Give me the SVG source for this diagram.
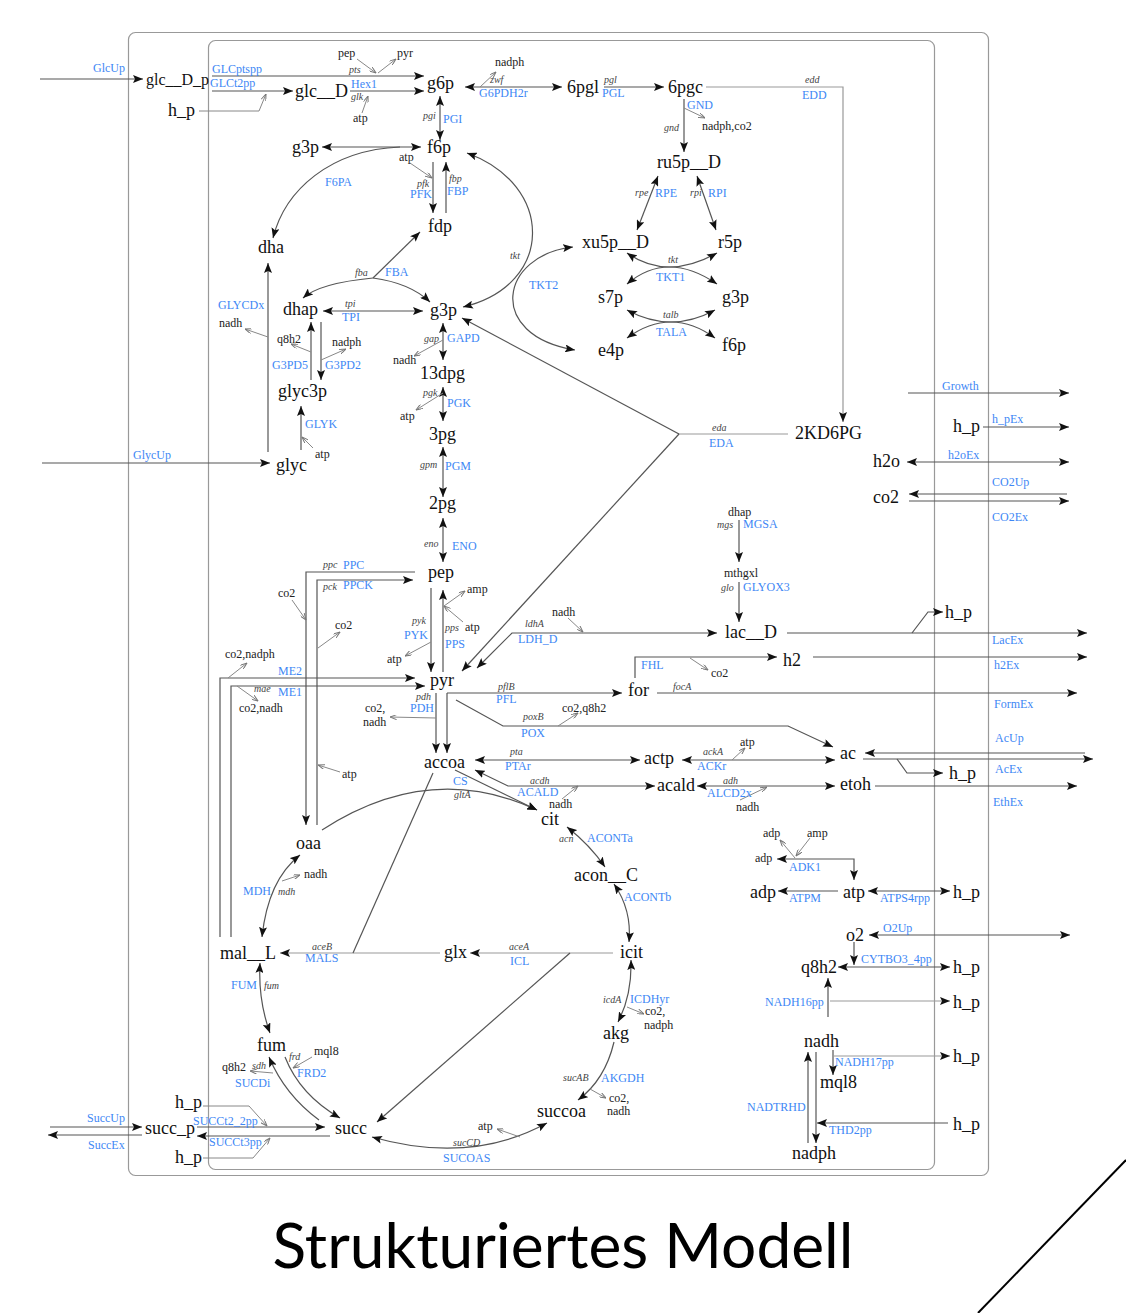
<svg xmlns="http://www.w3.org/2000/svg" width="1126" height="1313" viewBox="0 0 1126 1313">
<style>
.m{font-family:"Liberation Serif",serif;font-size:18px;fill:#111}
.s{font-family:"Liberation Serif",serif;font-size:12px;fill:#222}
.r{font-family:"Liberation Serif",serif;font-size:12px;fill:#3e87f5}
.g{font-family:"Liberation Serif",serif;font-size:10px;font-style:italic;fill:#444}
.l{fill:none;stroke:#555;stroke-width:1.2}
.lg{fill:none;stroke:#999;stroke-width:1.2}
.c{fill:none;stroke:#888;stroke-width:1;marker-end:url(#sa)}
.e{marker-end:url(#ah)}
.b{marker-start:url(#ah);marker-end:url(#ah)}
.box{fill:none;stroke:#999;stroke-width:1.2}
</style>
<defs>
<marker id="ah" viewBox="0 0 10 8" refX="10" refY="4" markerWidth="10" markerHeight="8" markerUnits="userSpaceOnUse" orient="auto-start-reverse"><path d="M0,0 L10,4 L0,8 L2,4 z" fill="#111"/></marker>
<marker id="sa" viewBox="0 0 8 6" refX="8" refY="3" markerWidth="7" markerHeight="5" markerUnits="userSpaceOnUse" orient="auto"><path d="M0,0 L8,3 L0,6" fill="none" stroke="#777" stroke-width="1.2"/></marker>
</defs>
<rect width="1126" height="1313" fill="#fff"/>
<g id="compartments">
<rect class="box" x="128.5" y="32.5" width="860" height="1143" rx="7"/>
<rect class="box" x="208.5" y="40.5" width="726" height="1129" rx="7"/>
</g>
<g id="connectors">
<path class="l e" d="M40,79 L143,79"/>
<path class="l e" d="M212,76 L424,76"/>
<path class="l e" d="M212,91 L293,91"/>
<path class="c" d="M199,111 L259,111 L266,94"/>
<path class="l e" d="M350,91 L424,91"/>
<path class="c" d="M362,113 L368,96"/>
<path class="c" d="M357,59 L376,73"/>
<path class="c" d="M378,73 L396,59"/>
<path class="l b" d="M465,87 L562,87"/>
<path class="c" d="M480,87 L496,72"/>
<path class="l e" d="M604,87 L664,87"/>
<path class="lg e" d="M706,87 L843,87 L843,422"/>
<path class="l e" d="M684,99 L684,152"/>
<path class="c" d="M684,108 L705,118"/>
<path class="l b" d="M658,176 L637,230"/>
<path class="l b" d="M697,176 L716,230"/>
<path class="l b" d="M627,253 Q667,281 717,253"/>
<path class="l b" d="M627,284 Q667,250 717,284"/>
<path class="l b" d="M627,310 Q671,334 715,310"/>
<path class="l b" d="M627,338 Q671,306 715,338"/>
<path class="l b" d="M467,153 C555,185 555,285 463,307"/>
<path class="l b" d="M573,247 C500,255 485,335 575,350"/>
<path class="l b" d="M440,96 L440,140"/>
<path class="l b" d="M421,147 L322,147"/>
<path class="l e" d="M400,147 C330,150 285,190 273,238"/>
<path class="l e" d="M433,162 L433,213"/>
<path class="c" d="M410,163 L432,178"/>
<path class="l e" d="M446,213 L446,162"/>
<path class="l e" d="M373,278 L420,232"/>
<path class="l e" d="M373,278 Q320,283 303,298"/>
<path class="l e" d="M373,278 Q410,283 430,302"/>
<path class="l b" d="M323,311 L423,311"/>
<path class="l b" d="M443,323 L443,360"/>
<path class="c" d="M443,340 L414,356"/>
<path class="l b" d="M443,387 L443,421"/>
<path class="c" d="M443,393 L416,410"/>
<path class="l b" d="M443,447 L443,497"/>
<path class="l b" d="M443,518 L443,562"/>
<path class="l e" d="M268,452 L268,263"/>
<path class="c" d="M268,337 L245,329"/>
<path class="l e" d="M42,463 L270,463"/>
<path class="l e" d="M301,450 L301,406"/>
<path class="c" d="M313,448 L302,437"/>
<path class="l e" d="M311,380 L311,322"/>
<path class="c" d="M311,352 L291,344"/>
<path class="l e" d="M321,322 L321,380"/>
<path class="c" d="M321,360 L346,349"/>
<path class="l e" d="M415,572 L306,572 L306,825"/>
<path class="c" d="M292,600 L306,620"/>
<path class="l e" d="M317,825 L317,580 L413,580"/>
<path class="c" d="M318,648 L340,632"/>
<path class="c" d="M340,772 L318,765"/>
<path class="l e" d="M220,937 L220,678 L415,678"/>
<path class="c" d="M228,678 L247,663"/>
<path class="l e" d="M231,937 L231,686 L425,686"/>
<path class="c" d="M237,686 L258,701"/>
<path class="l e" d="M431,588 L431,672"/>
<path class="c" d="M431,642 L405,656"/>
<path class="l e" d="M443,672 L443,590"/>
<path class="c" d="M463,622 L444,606"/>
<path class="c" d="M444,606 L465,591"/>
<path class="lg" d="M788,434 L679,434"/>
<path class="l e" d="M679,434 L462,318"/>
<path class="l e" d="M679,434 L462,671"/>
<path class="l b" d="M717,633 L512,633 L477,668"/>
<path class="c" d="M568,618 L583,632"/>
<path class="l e" d="M739,520 L739,562"/>
<path class="l e" d="M739,582 L739,622"/>
<path class="l e" d="M787,633 L1087,633"/>
<path class="l e" d="M912,633 L928,612 L943,612"/>
<path class="l e" d="M635,678 L635,657 L777,657"/>
<path class="c" d="M690,658 L708,670"/>
<path class="l e" d="M813,657 L1087,657"/>
<path class="l e" d="M447,693 L447,753"/>
<path class="l e" d="M447,693 L622,693"/>
<path class="l e" d="M657,693 L1077,693"/>
<path class="l e" d="M436,693 L436,753"/>
<path class="c" d="M436,718 L390,717"/>
<path class="l e" d="M456,700 L503,726 L788,726 L833,747"/>
<path class="c" d="M558,726 L578,713"/>
<path class="l b" d="M475,760 L640,760"/>
<path class="l b" d="M682,760 L835,760"/>
<path class="c" d="M732,760 L745,748"/>
<path class="l b" d="M655,786 L508,786 L475,770"/>
<path class="c" d="M562,799 L578,786"/>
<path class="l b" d="M697,786 L835,786"/>
<path class="c" d="M740,800 L767,787"/>
<path class="l e" d="M875,786 L1077,786"/>
<path class="l e" d="M1085,753 L865,753"/>
<path class="l e" d="M863,759 L1093,759"/>
<path class="l e" d="M897,759 L907,773 L943,773"/>
<path class="l e" d="M908,393 L1069,393"/>
<path class="l e" d="M983,427 L1069,427"/>
<path class="l b" d="M907,462 L1069,462"/>
<path class="l e" d="M1067,494 L909,494"/>
<path class="l e" d="M909,501 L1069,501"/>
<path class="l e" d="M455,770 L537,810"/>
<path class="l e" d="M322,830 Q430,760 537,810"/>
<path class="l b" d="M567,827 Q590,845 605,867"/>
<path class="l b" d="M614,884 Q632,910 629,942"/>
<path class="lg e" d="M613,953 L470,953"/>
<path class="l e" d="M570,953 L377,1122"/>
<path class="lg e" d="M440,953 L280,953"/>
<path class="l" d="M353,953 L433,773"/>
<path class="l b" d="M262,937 Q268,880 300,855"/>
<path class="c" d="M282,881 L300,875"/>
<path class="l b" d="M260,963 Q258,1000 270,1033"/>
<path class="l e" d="M319,1120 Q285,1095 269,1057"/>
<path class="c" d="M273,1073 L250,1071"/>
<path class="l e" d="M285,1057 Q300,1095 340,1118"/>
<path class="c" d="M312,1057 L293,1068"/>
<path class="l b" d="M547,1123 Q470,1165 372,1137"/>
<path class="c" d="M520,1137 L497,1129"/>
<path class="l e" d="M614,1042 Q605,1080 578,1100"/>
<path class="c" d="M590,1089 L606,1098"/>
<path class="l b" d="M631,960 Q632,995 618,1022"/>
<path class="c" d="M627,1007 L644,1014"/>
<path class="l e" d="M50,1127 L142,1127"/>
<path class="l e" d="M142,1135 L48,1135"/>
<path class="l e" d="M197,1127 L325,1127"/>
<path class="c" d="M203,1106 L249,1106 L267,1126"/>
<path class="l e" d="M330,1136 L197,1136"/>
<path class="c" d="M203,1158 L253,1158 L270,1138"/>
<path class="c" d="M795,858 L780,840"/>
<path class="c" d="M810,838 L796,856"/>
<path class="l b" d="M777,859 L854,859 L854,880"/>
<path class="l e" d="M838,891 L778,891"/>
<path class="l b" d="M868,891 L950,891"/>
<path class="l b" d="M869,935 L1070,935"/>
<path class="l e" d="M854,942 L854,965"/>
<path class="l b" d="M838,967 L950,967"/>
<path class="l e" d="M828,1017 L828,978"/>
<path class="lg e" d="M830,1001 L950,1001"/>
<path class="l e" d="M833,1050 L833,1075"/>
<path class="lg e" d="M833,1056 L950,1056"/>
<path class="l e" d="M808,1143 L808,1052"/>
<path class="l e" d="M816,1052 L816,1143"/>
<path class="l e" d="M948,1123 L817,1123"/>
</g>
<g id="nodes">
<g id="n-glc_D_p"><text class="m" x="146" y="85" style="font-size:16px">glc__D_p</text></g>
<g id="n-h_p1"><text class="m" x="168" y="116">h_p</text></g>
<g id="n-glc_D"><text class="m" x="295" y="97">glc__D</text></g>
<g id="n-g6p"><text class="m" x="427" y="89">g6p</text></g>
<g id="n-6pgl"><text class="m" x="567" y="93">6pgl</text></g>
<g id="n-6pgc"><text class="m" x="668" y="93">6pgc</text></g>
<g id="n-f6p"><text class="m" x="427" y="153">f6p</text></g>
<g id="n-g3p-left"><text class="m" x="292" y="153">g3p</text></g>
<g id="n-fdp"><text class="m" x="428" y="232">fdp</text></g>
<g id="n-dha"><text class="m" x="258" y="253">dha</text></g>
<g id="n-dhap"><text class="m" x="283" y="315">dhap</text></g>
<g id="n-g3p"><text class="m" x="430" y="316">g3p</text></g>
<g id="n-glyc3p"><text class="m" x="278" y="397">glyc3p</text></g>
<g id="n-glyc"><text class="m" x="276" y="471">glyc</text></g>
<g id="n-13dpg"><text class="m" x="420" y="379">13dpg</text></g>
<g id="n-3pg"><text class="m" x="429" y="440">3pg</text></g>
<g id="n-2pg"><text class="m" x="429" y="509">2pg</text></g>
<g id="n-pep"><text class="m" x="428" y="578">pep</text></g>
<g id="n-pyr"><text class="m" x="430" y="686">pyr</text></g>
<g id="n-accoa"><text class="m" x="424" y="768">accoa</text></g>
<g id="n-oaa"><text class="m" x="296" y="849">oaa</text></g>
<g id="n-cit"><text class="m" x="541" y="825">cit</text></g>
<g id="n-acon_C"><text class="m" x="574" y="881">acon__C</text></g>
<g id="n-icit"><text class="m" x="620" y="958">icit</text></g>
<g id="n-glx"><text class="m" x="444" y="958">glx</text></g>
<g id="n-mal_L"><text class="m" x="220" y="959">mal__L</text></g>
<g id="n-fum"><text class="m" x="257" y="1051">fum</text></g>
<g id="n-succ"><text class="m" x="335" y="1134">succ</text></g>
<g id="n-succ_p"><text class="m" x="145" y="1134">succ_p</text></g>
<g id="n-h_p2"><text class="m" x="175" y="1108">h_p</text></g>
<g id="n-h_p3"><text class="m" x="175" y="1163">h_p</text></g>
<g id="n-akg"><text class="m" x="603" y="1039">akg</text></g>
<g id="n-succoa"><text class="m" x="537" y="1117">succoa</text></g>
<g id="n-ru5p_D"><text class="m" x="657" y="168">ru5p__D</text></g>
<g id="n-xu5p_D"><text class="m" x="582" y="248">xu5p__D</text></g>
<g id="n-r5p"><text class="m" x="718" y="248">r5p</text></g>
<g id="n-s7p"><text class="m" x="598" y="303">s7p</text></g>
<g id="n-g3p-right"><text class="m" x="722" y="303">g3p</text></g>
<g id="n-e4p"><text class="m" x="598" y="356">e4p</text></g>
<g id="n-f6p-right"><text class="m" x="722" y="351">f6p</text></g>
<g id="n-2KD6PG"><text class="m" x="795" y="439">2KD6PG</text></g>
<g id="n-h_p4"><text class="m" x="953" y="432">h_p</text></g>
<g id="n-h2o"><text class="m" x="873" y="467">h2o</text></g>
<g id="n-co2"><text class="m" x="873" y="503">co2</text></g>
<g id="n-lac_D"><text class="m" x="725" y="638">lac__D</text></g>
<g id="n-h_p5"><text class="m" x="945" y="618">h_p</text></g>
<g id="n-h2"><text class="m" x="783" y="666">h2</text></g>
<g id="n-for"><text class="m" x="628" y="696">for</text></g>
<g id="n-actp"><text class="m" x="644" y="764">actp</text></g>
<g id="n-ac"><text class="m" x="840" y="759">ac</text></g>
<g id="n-acald"><text class="m" x="657" y="791">acald</text></g>
<g id="n-etoh"><text class="m" x="840" y="790">etoh</text></g>
<g id="n-h_p6"><text class="m" x="949" y="779">h_p</text></g>
<g id="n-adp"><text class="m" x="750" y="898">adp</text></g>
<g id="n-atp"><text class="m" x="843" y="898">atp</text></g>
<g id="n-h_p7"><text class="m" x="953" y="898">h_p</text></g>
<g id="n-o2"><text class="m" x="846" y="941">o2</text></g>
<g id="n-q8h2"><text class="m" x="801" y="973">q8h2</text></g>
<g id="n-h_p8"><text class="m" x="953" y="973">h_p</text></g>
<g id="n-h_p9"><text class="m" x="953" y="1008">h_p</text></g>
<g id="n-nadh"><text class="m" x="804" y="1047">nadh</text></g>
<g id="n-h_p10"><text class="m" x="953" y="1062">h_p</text></g>
<g id="n-mql8"><text class="m" x="820" y="1088">mql8</text></g>
<g id="n-h_p11"><text class="m" x="953" y="1130">h_p</text></g>
<g id="n-nadph"><text class="m" x="792" y="1159">nadph</text></g>
<g id="n-dhap-small"><text class="s" x="728" y="516">dhap</text></g>
<g id="n-mthgxl"><text class="s" x="724" y="577">mthgxl</text></g>
</g>
<g id="cofactors">
<text class="s" x="338" y="57">pep</text>
<text class="s" x="397" y="57">pyr</text>
<text class="s" x="353" y="122">atp</text>
<text class="s" x="495" y="66">nadph</text>
<text class="s" x="702" y="130">nadph,co2</text>
<text class="s" x="399" y="161">atp</text>
<text class="s" x="219" y="327">nadh</text>
<text class="s" x="277" y="343">q8h2</text>
<text class="s" x="332" y="346">nadph</text>
<text class="s" x="393" y="364">nadh</text>
<text class="s" x="400" y="420">atp</text>
<text class="s" x="315" y="458">atp</text>
<text class="s" x="278" y="597">co2</text>
<text class="s" x="335" y="629">co2</text>
<text class="s" x="225" y="658">co2,nadph</text>
<text class="s" x="239" y="712">co2,nadh</text>
<text class="s" x="467" y="593">amp</text>
<text class="s" x="465" y="631">atp</text>
<text class="s" x="387" y="663">atp</text>
<text class="s" x="365" y="712">co2,</text>
<text class="s" x="363" y="726">nadh</text>
<text class="s" x="342" y="778">atp</text>
<text class="s" x="552" y="616">nadh</text>
<text class="s" x="711" y="677">co2</text>
<text class="s" x="562" y="712">co2,q8h2</text>
<text class="s" x="740" y="746">atp</text>
<text class="s" x="549" y="808">nadh</text>
<text class="s" x="736" y="811">nadh</text>
<text class="s" x="304" y="878">nadh</text>
<text class="s" x="314" y="1055">mql8</text>
<text class="s" x="222" y="1071">q8h2</text>
<text class="s" x="645" y="1015">co2,</text>
<text class="s" x="644" y="1029">nadph</text>
<text class="s" x="609" y="1102">co2,</text>
<text class="s" x="607" y="1115">nadh</text>
<text class="s" x="478" y="1130">atp</text>
<text class="s" x="763" y="837">adp</text>
<text class="s" x="807" y="837">amp</text>
<text class="s" x="755" y="862">adp</text>
</g>
<g id="reaction-labels">
<text class="r" x="93" y="72">GlcUp</text>
<text class="r" x="212" y="73">GLCptspp</text>
<text class="r" x="210" y="87">GLCt2pp</text>
<text class="r" x="351" y="88">Hex1</text>
<text class="r" x="479" y="97">G6PDH2r</text>
<text class="r" x="602" y="97">PGL</text>
<text class="r" x="687" y="109">GND</text>
<text class="r" x="802" y="99">EDD</text>
<text class="r" x="443" y="123">PGI</text>
<text class="r" x="325" y="186">F6PA</text>
<text class="r" x="410" y="198">PFK</text>
<text class="r" x="447" y="195">FBP</text>
<text class="r" x="655" y="197">RPE</text>
<text class="r" x="708" y="197">RPI</text>
<text class="r" x="529" y="289">TKT2</text>
<text class="r" x="656" y="281">TKT1</text>
<text class="r" x="385" y="276">FBA</text>
<text class="r" x="218" y="309">GLYCDx</text>
<text class="r" x="342" y="321">TPI</text>
<text class="r" x="656" y="336">TALA</text>
<text class="r" x="447" y="342">GAPD</text>
<text class="r" x="272" y="369">G3PD5</text>
<text class="r" x="325" y="369">G3PD2</text>
<text class="r" x="447" y="407">PGK</text>
<text class="r" x="305" y="428">GLYK</text>
<text class="r" x="709" y="447">EDA</text>
<text class="r" x="133" y="459">GlycUp</text>
<text class="r" x="445" y="470">PGM</text>
<text class="r" x="743" y="528">MGSA</text>
<text class="r" x="452" y="550">ENO</text>
<text class="r" x="343" y="569">PPC</text>
<text class="r" x="343" y="589">PPCK</text>
<text class="r" x="743" y="591">GLYOX3</text>
<text class="r" x="518" y="643">LDH_D</text>
<text class="r" x="404" y="639">PYK</text>
<text class="r" x="445" y="648">PPS</text>
<text class="r" x="641" y="669">FHL</text>
<text class="r" x="278" y="675">ME2</text>
<text class="r" x="278" y="696">ME1</text>
<text class="r" x="496" y="703">PFL</text>
<text class="r" x="410" y="712">PDH</text>
<text class="r" x="521" y="737">POX</text>
<text class="r" x="505" y="770">PTAr</text>
<text class="r" x="697" y="770">ACKr</text>
<text class="r" x="453" y="785">CS</text>
<text class="r" x="517" y="796">ACALD</text>
<text class="r" x="707" y="797">ALCD2x</text>
<text class="r" x="587" y="842">ACONTa</text>
<text class="r" x="789" y="871">ADK1</text>
<text class="r" x="243" y="895">MDH</text>
<text class="r" x="789" y="902">ATPM</text>
<text class="r" x="880" y="902">ATPS4rpp</text>
<text class="r" x="624" y="901">ACONTb</text>
<text class="r" x="883" y="932">O2Up</text>
<text class="r" x="305" y="962">MALS</text>
<text class="r" x="510" y="965">ICL</text>
<text class="r" x="861" y="963">CYTBO3_4pp</text>
<text class="r" x="231" y="989">FUM</text>
<text class="r" x="765" y="1006">NADH16pp</text>
<text class="r" x="630" y="1003">ICDHyr</text>
<text class="r" x="835" y="1066">NADH17pp</text>
<text class="r" x="235" y="1087">SUCDi</text>
<text class="r" x="297" y="1077">FRD2</text>
<text class="r" x="601" y="1082">AKGDH</text>
<text class="r" x="747" y="1111">NADTRHD</text>
<text class="r" x="87" y="1122">SuccUp</text>
<text class="r" x="193" y="1125">SUCCt2_2pp</text>
<text class="r" x="829" y="1134">THD2pp</text>
<text class="r" x="209" y="1146">SUCCt3pp</text>
<text class="r" x="88" y="1149">SuccEx</text>
<text class="r" x="443" y="1162">SUCOAS</text>
<text class="r" x="942" y="390">Growth</text>
<text class="r" x="992" y="423">h_pEx</text>
<text class="r" x="948" y="459">h2oEx</text>
<text class="r" x="992" y="486">CO2Up</text>
<text class="r" x="992" y="521">CO2Ex</text>
<text class="r" x="992" y="644">LacEx</text>
<text class="r" x="994" y="669">h2Ex</text>
<text class="r" x="994" y="708">FormEx</text>
<text class="r" x="995" y="742">AcUp</text>
<text class="r" x="995" y="773">AcEx</text>
<text class="r" x="993" y="806">EthEx</text>
</g>
<g id="gene-labels">
<text class="g" x="349" y="73">pts</text>
<text class="g" x="351" y="100">glk</text>
<text class="g" x="490" y="83">zwf</text>
<text class="g" x="604" y="83">pgl</text>
<text class="g" x="805" y="83">edd</text>
<text class="g" x="664" y="131">gnd</text>
<text class="g" x="423" y="119">pgi</text>
<text class="g" x="417" y="187">pfk</text>
<text class="g" x="449" y="182">fbp</text>
<text class="g" x="635" y="196">rpe</text>
<text class="g" x="690" y="196">rpi</text>
<text class="g" x="510" y="259">tkt</text>
<text class="g" x="668" y="263">tkt</text>
<text class="g" x="355" y="276">fba</text>
<text class="g" x="345" y="307">tpi</text>
<text class="g" x="663" y="318">talb</text>
<text class="g" x="424" y="342">gap</text>
<text class="g" x="423" y="396">pgk</text>
<text class="g" x="712" y="431">eda</text>
<text class="g" x="420" y="468">gpm</text>
<text class="g" x="717" y="528">mgs</text>
<text class="g" x="424" y="547">eno</text>
<text class="g" x="323" y="568">ppc</text>
<text class="g" x="323" y="590">pck</text>
<text class="g" x="721" y="591">glo</text>
<text class="g" x="412" y="624">pyk</text>
<text class="g" x="525" y="627">ldhA</text>
<text class="g" x="445" y="631">pps</text>
<text class="g" x="254" y="692">mae</text>
<text class="g" x="498" y="690">pflB</text>
<text class="g" x="673" y="690">focA</text>
<text class="g" x="416" y="700">pdh</text>
<text class="g" x="523" y="720">poxB</text>
<text class="g" x="510" y="755">pta</text>
<text class="g" x="703" y="755">ackA</text>
<text class="g" x="530" y="784">acdh</text>
<text class="g" x="723" y="784">adh</text>
<text class="g" x="454" y="798">gltA</text>
<text class="g" x="559" y="842">acn</text>
<text class="g" x="278" y="895">mdh</text>
<text class="g" x="312" y="950">aceB</text>
<text class="g" x="509" y="950">aceA</text>
<text class="g" x="264" y="989">fum</text>
<text class="g" x="603" y="1003">icdA</text>
<text class="g" x="289" y="1060">frd</text>
<text class="g" x="252" y="1069">sdh</text>
<text class="g" x="563" y="1081">sucAB</text>
<text class="g" x="453" y="1146">sucCD</text>
</g>
<g id="title">
<text x="563" y="1268" text-anchor="middle" textLength="581" lengthAdjust="spacingAndGlyphs" style="font-family:Lato,'Open Sans',sans-serif;font-size:62px;fill:#000">Strukturiertes Modell</text>
<path d="M1126,1160 L978,1313" stroke="#000" stroke-width="2" fill="none"/>
</g>
</svg>
